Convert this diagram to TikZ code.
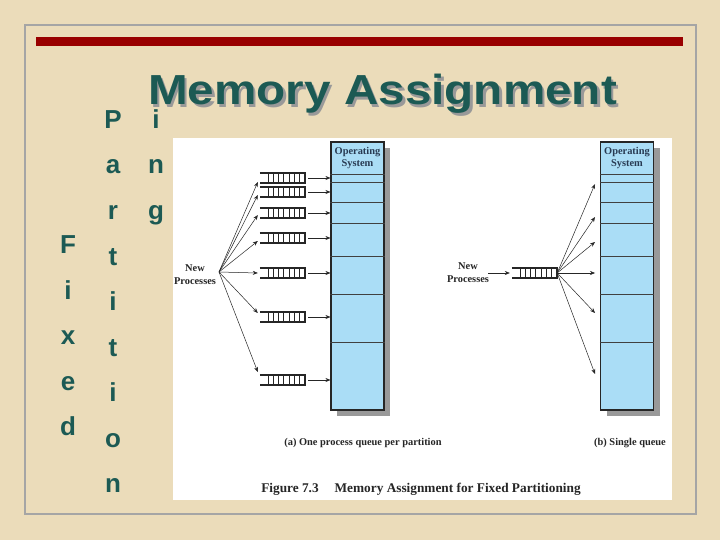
\documentclass[tikz,border=0pt]{standalone}
\usepackage{fontspec}
\setmainfont{Liberation Serif}
\setsansfont{Liberation Sans}
\usetikzlibrary{calc,arrows.meta,shadows}
\definecolor{parch}{RGB}{235,220,186}
\definecolor{titlecol}{RGB}{28,90,84}
\definecolor{barred}{RGB}{153,0,0}
\definecolor{frameg}{RGB}{165,165,165}
\definecolor{memblue}{RGB}{170,221,246}
\definecolor{oscol}{RGB}{40,58,82}
\newcommand{\myqueue}[3]{%
  \node[qbox] (#1) at (#2,#3) {};
  \draw[line width=1.7pt, black!85] (#1.north west) -- (#1.north east) -- (#1.south east) -- (#1.south west);
  \foreach \dd in {0,...,6} \draw[line width=0.6pt, black!85] ($(#1.north west)+(8+5.33*\dd,0)$) -- ($(#1.south west)+(8+5.33*\dd,0)$);
}
\begin{document}
\begin{tikzpicture}[x=1pt,y=-1pt,
  arr/.style={-{Stealth[length=5pt,width=4pt]}, line width=0.5pt, black!85},
  membox/.style={draw=black!85, line width=1.1pt, fill=memblue, minimum width=53pt, minimum height=268pt, inner sep=0pt,
     drop shadow={shadow xshift=6pt, shadow yshift=-6pt, fill=gray!80, opacity=1}},
  qbox/.style={minimum width=45pt, minimum height=9pt, inner sep=0pt},
  lbl/.style={font=\bfseries\fontsize{10.4}{12.5}\selectfont, text=black!85, align=center, inner sep=0pt},
  letter/.style={font=\sffamily\bfseries\fontsize{26}{26}\selectfont, text=titlecol, anchor=base, inner sep=0pt},
  sep/.style={line width=0.6pt, black!75},
]
% background
\fill[parch] (0,0) rectangle (720,540);
\useasboundingbox (0,0) rectangle (720,540);
\draw[frameg, line width=1.5pt] (25,25) rectangle (696,514);
\fill[barred] (36,37) rectangle (683,46);
\fill[white] (173,138) rectangle (672,500);

% vertical letters
\foreach \ch [count=\k from 0] in {F,i,x,e,d}
  \node[letter] (f\k) at (68, 253.5+45.5*\k) {\ch};
\foreach \ch [count=\k from 0] in {P,a,r,t,i,t,i,o,n}
  \node[letter] (p\k) at (113, 128.5+45.5*\k) {\ch};
\foreach \ch [count=\k from 0] in {i,n,g}
  \node[letter] (g\k) at (156, 128.5+45.5*\k) {\ch};

% title
\node[anchor=base west, inner sep=0, font=\sffamily\bfseries\fontsize{42}{42}\selectfont, text=black!40]
  (tshadow) at (150.5,107.5) {\scalebox{1.135}[1]{Memory Assignment}};
\node[anchor=base west, inner sep=0, font=\sffamily\bfseries\fontsize{42}{42}\selectfont, text=titlecol]
  (title) at (148,105) {\scalebox{1.135}[1]{Memory Assignment}};

% memory boxes
\node[membox] (mA) at (357.5,276) {};
\node[membox] (mB) at (627,276) {};
\foreach \yy [count=\j] in {174.3,182.3,202.3,223.3,256,294.3,342} {
  \coordinate (h\j) at (0,\yy);
  \draw[sep] (mA.west |- h\j) -- (mA.east |- h\j);
  \draw[sep] (mB.west |- h\j) -- (mB.east |- h\j);
}
\node[lbl, text=oscol] (osA) at (357.5,158) {Operating\\System};
\node[lbl, text=oscol] (osB) at (627,158) {Operating\\System};

% (a) one queue per partition
\node[lbl] (npA) at (195,274.5) {New\\Processes};
\coordinate (fanA) at (219,272);
\myqueue{q1}{282.5}{178}
\myqueue{q2}{282.5}{192}
\myqueue{q3}{282.5}{213}
\myqueue{q4}{282.5}{238}
\myqueue{q5}{282.5}{273}
\myqueue{q6}{282.5}{317}
\myqueue{q7}{282.5}{380}
\foreach \q/\off in {q1/4,q2/3,q3/2,q4/3,q5/0,q6/-4,q7/-8} {
  \draw[arr] (fanA) -- ($(\q.west)+(-2,\off)$);
  \draw[arr] ([xshift=3pt]\q.east) -- (\q.east -| mA.west);
}

% (b) single queue
\node[lbl] (npB) at (468,272.6) {New\\Processes};
\myqueue{rq}{534.5}{273}
\draw[arr] ([xshift=-1pt]npB.east |- rq.west) -- ([xshift=-2pt]rq.west);
\foreach \ty [count=\j] in {184,217,242,273,313,374} {
  \coordinate (t\j) at (595,\ty);
  \draw[arr] (rq.east) -- (t\j);
}

% captions
\node[lbl] (capA) at (363,443) {(a) One process queue per partition};
\node[lbl] (capB) at (630,443) {(b) Single queue};
\node[lbl, font=\bfseries\fontsize{13.3}{15}\selectfont] (fig) at (421,489)
  {Figure 7.3\hspace{16pt}Memory Assignment for Fixed Partitioning};
\end{tikzpicture}
\end{document}
